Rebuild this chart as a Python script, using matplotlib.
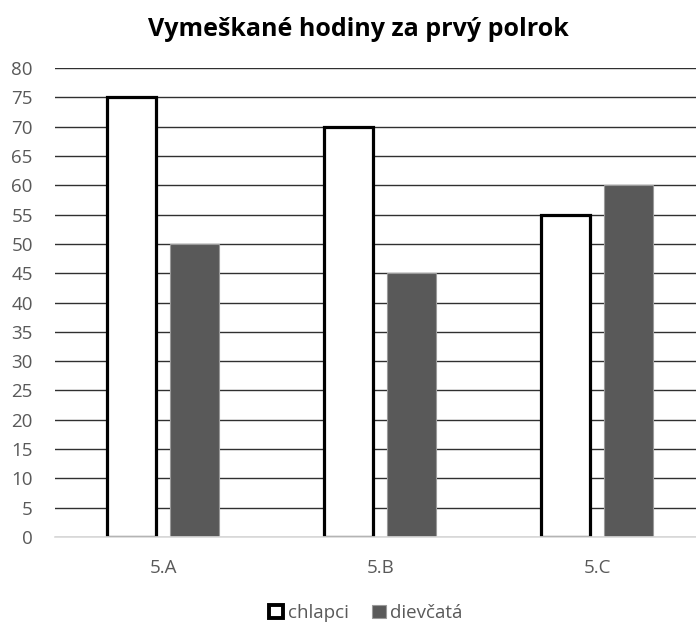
import numpy as np
import matplotlib.pyplot as plt
from matplotlib.patches import Patch

triedy = ["5.A", "5.B", "5.C"]
chlapci = [75, 70, 55]
dievcata = [50, 45, 60]
yticks = list(range(0, 85, 5))

plt.rcParams['font.family'] = ['Open Sans', 'DejaVu Sans']

fig = plt.figure(figsize=(6.96, 6.24), dpi=100)
ax = fig.add_axes([55 / 696, 1 - 537 / 624, 641 / 696, (537 - 68) / 624])

x = np.arange(len(triedy))
w = 0.226
ax.bar(x - 0.145, chlapci, w, color="white", edgecolor="black", linewidth=2.3, zorder=3)
ax.bar(x + 0.143, dievcata, w, color="#595959", edgecolor="#9a9a9a", linewidth=0.8, zorder=3)

ax.set_xlim(-0.5, 2.456)
ax.set_ylim(0, 80)
ax.set_yticks(yticks)
ax.set_xticks(x)
ax.set_xticklabels(triedy)
ax.grid(axis="y", color="#303030", linewidth=1.0, zorder=0)
for s in ["top", "right", "left"]:
    ax.spines[s].set_visible(False)
ax.spines["bottom"].set_color("#d9d9d9")
ax.spines["bottom"].set_linewidth(1.2)
ax.spines["bottom"].set_zorder(4)
ax.tick_params(axis="both", length=0, labelsize=13.5, labelcolor="#595959")
ax.tick_params(axis="y", pad=16)
ax.tick_params(axis="x", pad=16)

fig.text(358 / 696, 1 - 30 / 624, "Vymeškané hodiny za prvý polrok", ha="center", va="center",
         fontsize=18, fontweight="bold", color="black")

handles = [Patch(facecolor="white", edgecolor="black", linewidth=2.8, label="chlapci"),
           Patch(facecolor="#595959", edgecolor="#9a9a9a", linewidth=0.8, label="dievčatá")]
leg = fig.legend(handles=handles, loc="center", bbox_to_anchor=(366 / 696, 1 - 613 / 624), ncol=2,
                 frameon=False, fontsize=13.5, handlelength=0.75, handleheight=0.75,
                 handletextpad=0.25, columnspacing=1.2)
for t in leg.get_texts():
    t.set_color("#595959")

fig.savefig("out.png", dpi=100)
